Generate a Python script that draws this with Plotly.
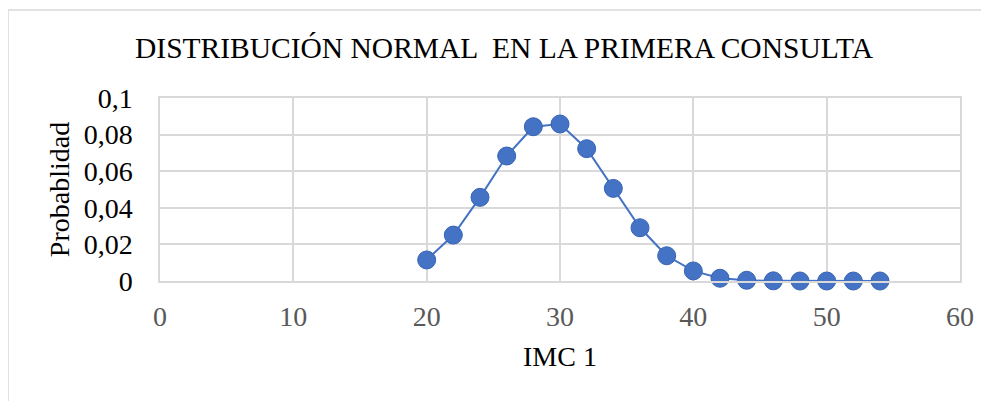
import plotly.graph_objects as go

imc = [20, 22, 24, 26, 28, 30, 32, 34, 36, 38, 40, 42, 44, 46, 48, 50, 52, 54]
probabilidad = [0.0115, 0.0251, 0.0457, 0.0683, 0.0843, 0.0858, 0.0723, 0.0506,
                0.0291, 0.0138, 0.0055, 0.0015, 0.0004, 0.0001, 0.0, 0.0, 0.0, 0.0]
x_ticks = [0, 10, 20, 30, 40, 50, 60]
y_ticks = [0, 0.02, 0.04, 0.06, 0.08, 0.1]
y_tick_labels = ["0", "0,02", "0,04", "0,06", "0,08", "0,1"]

FONT = "Liberation Serif, Times New Roman, serif"
GRID = "#d9d9d9"
BLUE = "#4472C4"

# page body adds an 8 px offset; margins compensate for it
L, T, R, B = 152, 90, 37, 128
PW, PH = 989 - L - R, 401 - T - B

fig = go.Figure()
fig.add_trace(go.Scatter(
    x=imc, y=probabilidad, mode="lines+markers",
    line=dict(color=BLUE, width=2),
    marker=dict(size=18, color=BLUE, line=dict(color="#3763b3", width=1)),
    showlegend=False, cliponaxis=False,
))

fig.update_layout(
    width=989, height=401,
    margin=dict(l=L, r=R, t=T, b=B),
    paper_bgcolor="white", plot_bgcolor="white",
    font=dict(family=FONT, color="#404040", size=28),
    title=dict(text="DISTRIBUCIÓN NORMAL  EN LA PRIMERA CONSULTA",
               x=496 / 989, xanchor="center", y=1 - 40 / 401, yanchor="middle",
               font=dict(family=FONT, size=29.5, color="#000000")),
    shapes=[dict(type="rect", xref="paper", yref="paper",
                 x0=(0 - L) / PW, x1=(1010 - L) / PW,
                 y0=(T + PH - 420) / PH, y1=(T + PH - 2) / PH,
                 line=dict(color=GRID, width=1.5), layer="below")],
)
fig.update_xaxes(
    range=[0, 60], tickvals=x_ticks, ticktext=[str(v) for v in x_ticks],
    showgrid=True, gridcolor=GRID, gridwidth=1.5, zeroline=False,
    showline=True, linecolor=GRID, linewidth=1.5, mirror=True,
    tickfont=dict(family=FONT, size=28, color="#595959"),
    ticklabelstandoff=10,
    title=dict(text="IMC 1", font=dict(family=FONT, size=28, color="#000000"), standoff=15),
)
fig.update_yaxes(
    range=[0, 0.1], tickvals=y_ticks, ticktext=y_tick_labels,
    showgrid=True, gridcolor=GRID, gridwidth=1.5, zeroline=False,
    showline=True, linecolor=GRID, linewidth=1.5, mirror=True,
    tickfont=dict(family=FONT, size=28, color="#000000"),
    ticklabelstandoff=20,
    title=dict(text="Probablidad", font=dict(family=FONT, size=28, color="#000000"), standoff=6),
)

fig.write_html("out.html")
